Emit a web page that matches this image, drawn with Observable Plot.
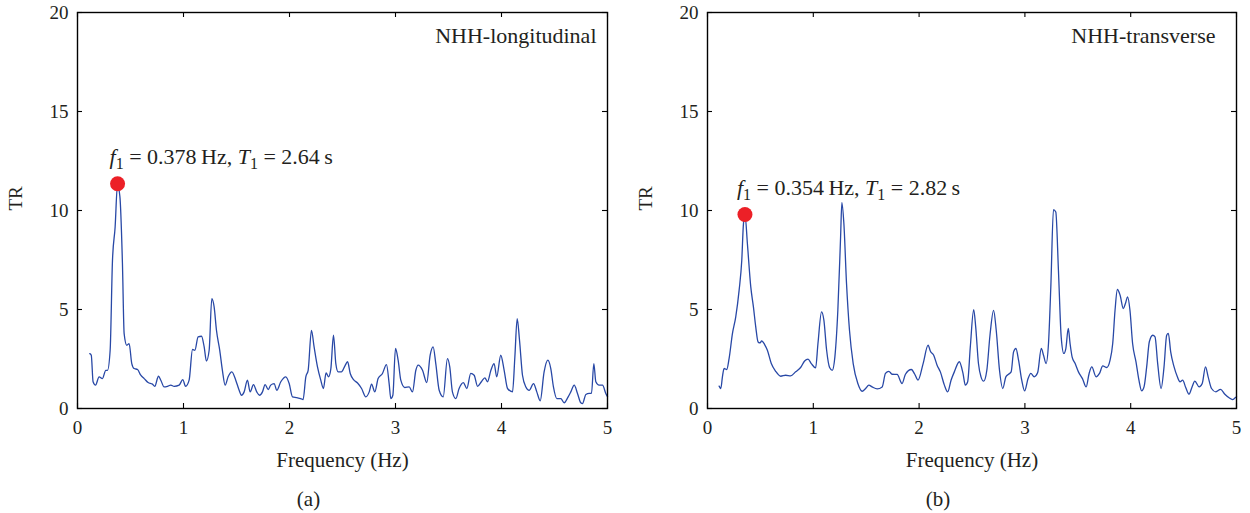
<!DOCTYPE html>
<html><head><meta charset="utf-8">
<script src="https://cdn.jsdelivr.net/npm/d3@7"></script>
<script src="https://cdn.jsdelivr.net/npm/@observablehq/plot@0.6"></script>
<style>
body{margin:0;background:#fff}
#wrap{display:flex;width:1250px;height:513px;overflow:hidden}
#wrap svg{display:block;flex:none}
</style>
</head><body><div id="wrap"></div>
<script>
const xTicks = [0, 1, 2, 3, 4, 5];
const yTicks = [0, 5, 10, 15, 20];
const xLabel = "Frequency (Hz)";
const yLabel = "TR";

const freqA = [0.116,0.13,0.147,0.17,0.204,0.235,0.267,0.283,0.308,0.33,
0.355,0.377,0.4,0.424,0.44,0.465,0.487,0.512,0.534,0.566,
0.597,0.629,0.666,0.707,0.729,0.764,0.786,0.817,0.849,0.88,
0.912,0.959,0.993,1.02,1.053,1.085,1.107,1.138,1.17,1.195,
1.216,1.242,1.267,1.289,1.311,1.342,1.367,1.393,1.421,1.456,
1.493,1.525,1.547,1.572,1.603,1.629,1.66,1.691,1.717,1.745,
1.77,1.799,1.823,1.855,1.88,1.918,1.965,1.997,2.028,2.069,
2.106,2.128,2.154,2.176,2.207,2.232,2.264,2.295,2.32,2.345,
2.368,2.39,2.415,2.437,2.459,2.49,2.522,2.548,2.573,2.604,
2.642,2.68,2.72,2.752,2.774,2.805,2.836,2.877,2.915,2.94,
2.956,2.975,3.0,3.025,3.05,3.088,3.129,3.16,3.192,3.214,
3.255,3.295,3.327,3.355,3.38,3.412,3.45,3.49,3.512,3.537,
3.569,3.6,3.64,3.673,3.71,3.742,3.774,3.81,3.843,3.868,
3.9,3.93,3.955,3.993,4.025,4.057,4.104,4.126,4.148,4.17,
4.198,4.23,4.261,4.302,4.333,4.365,4.402,4.437,4.465,4.49,
4.522,4.56,4.591,4.629,4.654,4.686,4.717,4.748,4.764,4.796,
4.827,4.849,4.871,4.89,4.921,4.953,4.984,5.0];
const trA = [2.77,2.69,1.35,1.18,1.6,1.51,1.93,1.93,2.94,7.48,
9.17,11.3,10.7,7.32,3.78,3.19,3.28,2.27,2.02,1.97,
1.68,1.51,1.31,1.23,1.12,1.63,1.43,1.09,1.12,1.18,
1.12,1.18,1.46,1.12,1.43,2.98,2.94,3.62,3.65,3.11,
2.4,2.94,5.55,5.13,3.95,2.94,1.93,1.18,1.6,1.85,
1.43,0.92,0.67,0.84,1.43,0.84,1.21,0.84,0.67,0.84,
1.21,0.96,1.18,1.26,0.92,1.35,1.6,1.26,0.59,0.55,
0.5,0.45,1.6,1.93,3.95,3.11,2.1,1.43,1.01,1.8,
1.6,2.0,3.7,2.27,1.85,1.85,2.14,2.36,1.77,1.46,
1.29,1.01,0.59,0.84,1.23,0.84,1.51,1.77,2.22,1.26,
0.5,0.67,3.03,2.44,1.43,1.06,1.09,0.84,1.93,2.19,
1.93,1.31,2.69,3.11,2.27,0.92,0.59,2.52,2.1,0.84,
0.5,1.01,1.31,1.01,1.77,1.68,1.12,1.35,1.55,1.35,
1.93,2.27,1.6,2.69,1.93,1.01,0.84,2.6,4.54,3.45,
1.68,1.09,0.92,1.26,0.84,0.39,1.85,2.44,2.02,1.09,
0.5,0.5,0.29,0.59,0.84,1.18,0.76,0.29,0.25,0.71,
0.76,0.76,2.27,1.35,1.18,1.18,0.76,0.6];

const freqB = [0.11,0.126,0.141,0.157,0.182,0.204,0.236,0.267,0.299,0.324,
0.34,0.355,0.377,0.409,0.434,0.456,0.478,0.497,0.512,0.54,
0.566,0.603,0.644,0.692,0.739,0.786,0.833,0.88,0.918,0.95,
0.981,1.022,1.044,1.078,1.1,1.126,1.154,1.179,1.204,1.232,
1.258,1.27,1.289,1.314,1.342,1.377,1.421,1.462,1.494,1.525,
1.556,1.604,1.651,1.682,1.714,1.745,1.792,1.839,1.871,1.927,
1.959,1.99,2.038,2.085,2.107,2.138,2.17,2.201,2.239,2.27,
2.302,2.333,2.38,2.415,2.437,2.459,2.484,2.516,2.535,2.561,
2.585,2.61,2.64,2.67,2.704,2.729,2.76,2.791,2.82,2.846,
2.87,2.893,2.915,2.94,2.97,2.997,3.03,3.056,3.088,3.12,
3.155,3.176,3.2,3.223,3.245,3.27,3.292,3.317,3.343,3.368,
3.387,3.41,3.427,3.446,3.475,3.506,3.544,3.579,3.607,3.632,
3.673,3.705,3.736,3.774,3.805,3.83,3.852,3.874,3.9,3.93,
3.95,3.971,3.993,4.018,4.05,4.078,4.104,4.126,4.151,4.176,
4.208,4.23,4.255,4.287,4.315,4.34,4.356,4.378,4.41,4.441,
4.466,4.491,4.52,4.551,4.58,4.606,4.647,4.676,4.707,4.732,
4.764,4.805,4.849,4.89,4.93,4.962,4.987,5.0];
const trB = [1.13,1.01,1.6,2.02,1.97,2.52,3.79,4.63,5.98,7.49,
9.34,9.75,8.33,6.14,5.13,4.12,3.36,3.31,3.42,3.23,
2.94,2.27,1.88,1.63,1.68,1.65,1.85,2.07,2.4,2.49,
2.27,2.05,3.28,4.88,4.46,2.94,2.07,1.93,2.61,4.96,
8.67,10.4,9.34,6.31,3.95,2.27,1.26,0.87,1.01,1.18,
1.09,0.99,1.09,1.77,1.88,1.73,1.72,1.26,1.73,1.97,
1.73,1.43,2.27,3.2,2.89,2.69,2.19,1.85,1.18,0.84,
1.43,1.85,2.36,1.77,1.18,1.35,3.11,4.99,4.12,2.27,
1.6,1.38,1.93,3.7,4.96,3.95,1.93,1.01,1.6,1.73,
1.85,2.86,3.03,2.44,1.43,0.89,1.51,1.77,1.6,1.8,
3.03,2.69,2.27,3.28,6.14,10.04,9.92,6.98,3.62,2.78,
3.03,4.05,3.28,2.61,2.27,1.85,1.51,1.09,1.77,2.1,
1.6,1.77,2.15,2.07,2.44,3.28,4.96,6.01,5.72,5.05,
5.3,5.64,4.96,3.28,2.36,1.43,0.89,1.09,2.1,3.37,
3.7,3.62,2.27,1.01,2.1,3.7,3.79,2.86,2.1,1.6,
1.35,1.43,1.06,0.72,1.09,1.38,1.09,1.26,2.1,1.6,
1.01,0.84,0.97,0.72,0.54,0.45,0.54,0.6];

const peakFreq = [0.378, 0.354];
const peakTR = [11.35, 9.8];
const peakPeriod = ["2.64", "2.82"];
const panelNames = ["NHH-longitudinal", "NHH-transverse"];
const panelCaptions = ["(a)", "(b)"];

const FONT = "'Liberation Serif', 'Times New Roman', serif";
const TEXT = "#231f20";
const H = 513, MT = 12, MB = 105, ML = 77;

function panel(i, freq, tr, width, marginRight, nameDx) {
  const rows = freq.map((f, k) => ({f, tr: tr[k]}));
  const peak = [{f: peakFreq[i], tr: peakTR[i], T: peakPeriod[i]}];
  const innerW = width - ML - marginRight;
  const innerH = H - MT - MB;
  const svg = Plot.plot({
    width, height: H,
    marginLeft: ML, marginRight, marginTop: MT, marginBottom: MB,
    style: {fontFamily: FONT, fontSize: "19px", color: TEXT, background: "#fff", overflow: "visible"},
    x: {domain: [0, 5], label: null},
    y: {domain: [0, 20], label: null},
    marks: [
      Plot.axisX(xTicks, {anchor: "bottom", tickSize: 0, tickPadding: 12, label: null, fontSize: 19, fill: TEXT}),
      Plot.axisY(yTicks, {anchor: "left", tickSize: 0, tickPadding: 9, label: null, fontSize: 19, fill: TEXT}),
      Plot.ruleX(xTicks, {x: d => d, insetTop: innerH - 5, stroke: "#000", strokeWidth: 1.1}),
      Plot.ruleX(xTicks, {x: d => d, insetBottom: innerH - 5, stroke: "#000", strokeWidth: 1.1}),
      Plot.ruleY(yTicks, {y: d => d, insetRight: innerW - 5, stroke: "#000", strokeWidth: 1.1}),
      Plot.ruleY(yTicks, {y: d => d, insetLeft: innerW - 5, stroke: "#000", strokeWidth: 1.1}),
      Plot.line(rows, {x: "f", y: "tr", stroke: "#2848a6", strokeWidth: 1.3, curve: "monotone-x"}),
      Plot.frame({stroke: "#000", strokeWidth: 1.4}),
      Plot.dot(peak, {x: "f", y: "tr", r: 7.5, fill: "#ec2027", stroke: "none"}),
      Plot.text(peak, {x: "f", y: "tr", text: d => `f1 = ${d.f} Hz, T1 = ${d.T} s`, textAnchor: "start", dx: -8, dy: -27, fontSize: 22, fill: TEXT}),
      Plot.text([panelNames[i]], {frameAnchor: "top-right", text: d => d, textAnchor: "end", lineAnchor: "middle", dx: nameDx, dy: 23, fontSize: 22, fill: TEXT}),
      Plot.text([xLabel], {frameAnchor: "bottom", text: d => d, lineAnchor: "middle", dy: 52, fontSize: 21, fill: TEXT}),
      Plot.text([panelCaptions[i]], {frameAnchor: "bottom", text: d => d, lineAnchor: "middle", dx: -34, dy: 91, fontSize: 21, fill: TEXT}),
      Plot.text([yLabel], {frameAnchor: "left", text: d => d, rotate: -90, lineAnchor: "middle", dx: -62, fontSize: 19, fill: TEXT})
    ]
  });
  // rich formatting for the annotation: italic f/T with subscript 1
  svg.querySelectorAll("text").forEach(t => {
    const s = t.textContent;
    const m = s.match(/^f1 = ([\d.]+) Hz, T1 = ([\d.]+) s$/);
    if (!m) return;
    while (t.firstChild) t.removeChild(t.firstChild);
    const parts = [
      {s: "f", it: true},
      {s: "1", sub: true},
      {s: " = " + m[1] + "\u2009Hz, ", back: true},
      {s: "T", it: true},
      {s: "1", sub: true},
      {s: " = " + m[2] + "\u2009s", back: true}
    ];
    parts.forEach(p => {
      const ts = document.createElementNS("http://www.w3.org/2000/svg", "tspan");
      ts.textContent = p.s;
      if (p.it) ts.setAttribute("font-style", "italic");
      if (p.sub) { ts.setAttribute("font-size", "16"); ts.setAttribute("dy", "5"); }
      if (p.back) ts.setAttribute("dy", "-5");
      t.appendChild(ts);
    });
  });
  return svg;
}

const wrap = document.getElementById("wrap");
wrap.appendChild(panel(0, freqA, trA, 630, 23, -11));
wrap.appendChild(panel(1, freqB, trB, 620, 14, -21));
</script>
</body></html>
